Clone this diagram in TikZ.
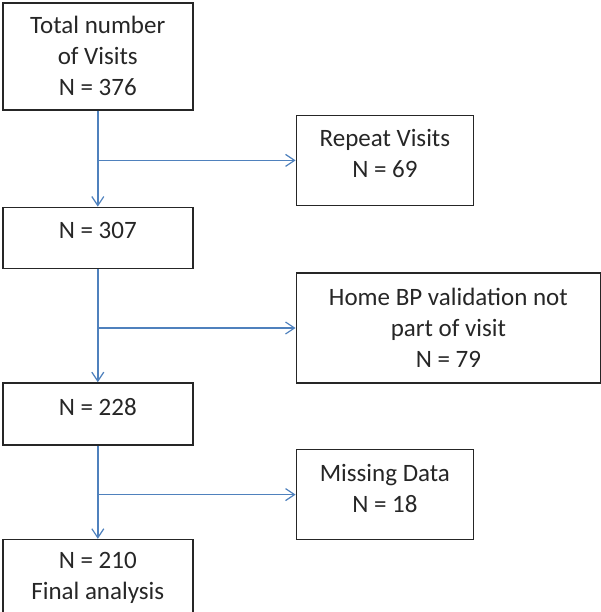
\documentclass[tikz,border=0pt]{standalone}
\usepackage{fontspec}
\setmainfont{Carlito}
\usepackage{xcolor}
\usetikzlibrary{arrows.meta,positioning}

\definecolor{flowblue}{HTML}{4F81BD}
\definecolor{boxgray}{HTML}{262626}

\begin{document}
\begin{tikzpicture}[
    block/.style={rectangle, draw=boxgray, line width=1.6pt, text=boxgray, align=center, inner sep=0pt, font=\fontsize{25}{31}\selectfont},
    mainbox/.style={block, minimum width=190pt},
    sidebox/.style={block, minimum width=177pt, minimum height=90pt},
    raised/.style={text depth=#1},
    line/.style={draw=flowblue, line width=1.5pt, -{Straight Barb[length=9pt,width=12pt,line width=1.2pt]}}
]
    \useasboundingbox (0,0) rectangle (600pt,-612pt);

    % Main column
    \node [mainbox, minimum height=107pt, anchor=north west] (total) at (2pt,-2pt) {Total number\\of Visits\\N = 376};
    \node [mainbox, minimum height=61pt, raised=16pt, below=96pt of total] (n307) {N = 307};
    \node [mainbox, minimum height=62pt, raised=14pt, below=113pt of n307] (n228) {N = 228};
    \node [mainbox, minimum height=76pt, below=93pt of n228] (n210) {N = 210\\Final analysis};

    % Exclusions
    \node [sidebox, raised=13pt, below right=4pt and 102pt of total.south east, anchor=north west] (repeat) {Repeat Visits\\N = 69};
    \node [block, minimum width=304pt, minimum height=110pt, below right=3pt and 102pt of n307.south east, anchor=north west] (homebp) {Home BP validation not\\part of visit\\N = 79};
    \node [sidebox, raised=12pt, below right=3pt and 102pt of n228.south east, anchor=north west] (missing) {Missing Data\\N = 18};

    % Routing
    \path [line] (total) -- (n307);
    \path [line] (n307) -- (n228);
    \path [line] (n228) -- (n210);

    \path [line] (total.south |- repeat.west) -- (repeat.west);
    \path [line] (n307.south |- homebp.west) -- (homebp.west);
    \path [line] (n228.south |- missing.west) -- (missing.west);
\end{tikzpicture}
\end{document}
